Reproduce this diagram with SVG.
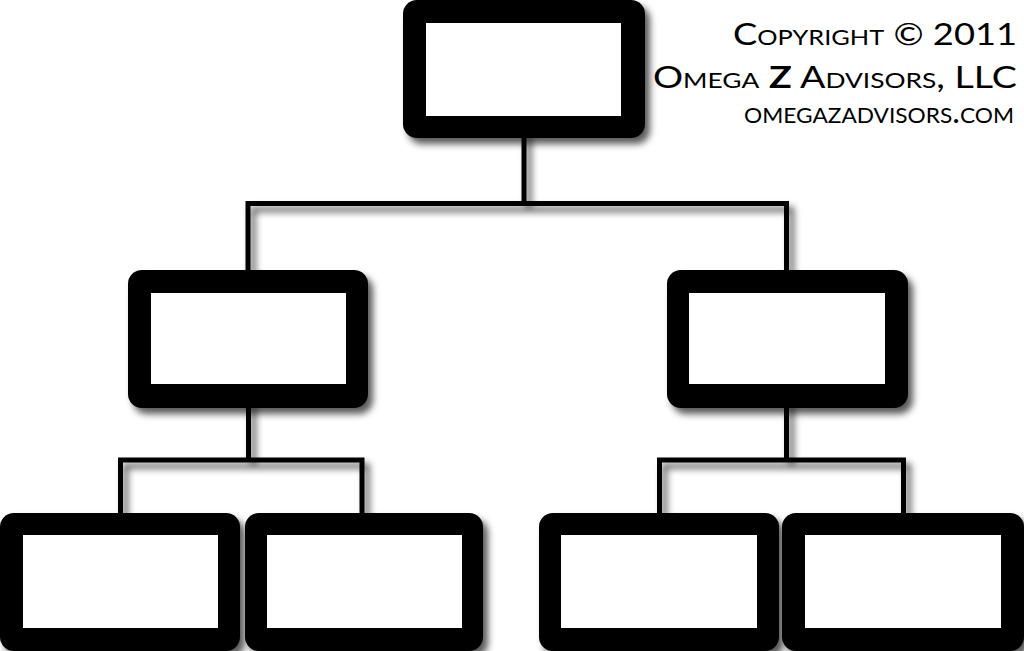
<svg xmlns="http://www.w3.org/2000/svg" width="1024" height="651" viewBox="0 0 1024 651">
<defs>
  <filter id="sh" x="-10%" y="-10%" width="130%" height="140%">
    <feDropShadow dx="5" dy="6" stdDeviation="3.5" flood-color="#000" flood-opacity="0.65"/>
  </filter>
</defs>
<style>
  .outer { fill: #000; }
  .inner { fill: #fff; }
  .conn { fill: none; stroke: #000; stroke-width: 5; stroke-linejoin: miter; stroke-linecap: butt; }
  .cr { font-family: "Lato", "Open Sans", "DejaVu Sans", sans-serif; font-variant: small-caps; fill: #000; text-anchor: end; }
</style>
<rect width="1024" height="651" fill="#fff"/>

<g id="connectors" filter="url(#sh)">
  <path class="conn" d="M524,130 V203.5 M248,270 V203.5 H786.5 V270"/>
  <path class="conn" d="M248.5,400 V460 M120.5,513 V460 H362 V513"/>
  <path class="conn" d="M786.5,400 V460 M659.5,513 V460 H903.5 V513"/>
</g>

<g id="node-top">
  <rect class="outer" x="403" y="0" width="242" height="138" rx="14" filter="url(#sh)"/>
  <rect class="inner" x="426" y="23" width="195" height="93"/>
</g>
<g id="node-mid-left">
  <rect class="outer" x="128" y="270" width="240" height="138" rx="14" filter="url(#sh)"/>
  <rect class="inner" x="151" y="293" width="195" height="91"/>
</g>
<g id="node-mid-right">
  <rect class="outer" x="667" y="270" width="241" height="138" rx="14" filter="url(#sh)"/>
  <rect class="inner" x="689" y="293" width="196" height="91"/>
</g>
<g id="node-bot-1">
  <rect class="outer" x="0" y="513" width="240" height="138" rx="14" filter="url(#sh)"/>
  <rect class="inner" x="23" y="535" width="195" height="93"/>
</g>
<g id="node-bot-2">
  <rect class="outer" x="245" y="513" width="238" height="138" rx="14" filter="url(#sh)"/>
  <rect class="inner" x="267" y="535" width="195" height="93"/>
</g>
<g id="node-bot-3">
  <rect class="outer" x="539" y="513" width="240" height="138" rx="14" filter="url(#sh)"/>
  <rect class="inner" x="561" y="535" width="196" height="93"/>
</g>
<g id="node-bot-4">
  <rect class="outer" x="782" y="513" width="242" height="138" rx="14" filter="url(#sh)"/>
  <rect class="inner" x="805" y="535" width="196" height="93"/>
</g>

<g id="copyright">
  <text class="cr" x="1017" y="45" font-size="30" textLength="284" lengthAdjust="spacingAndGlyphs">Copyright © 2011</text>
  <text class="cr" x="1017" y="88" font-size="30" textLength="364" lengthAdjust="spacingAndGlyphs">Omega <tspan font-weight="bold">Z</tspan> Advisors, LLC</text>
  <text class="cr" x="1014" y="123" font-size="30" textLength="270" lengthAdjust="spacingAndGlyphs">omegazadvisors.com</text>
</g>
</svg>
